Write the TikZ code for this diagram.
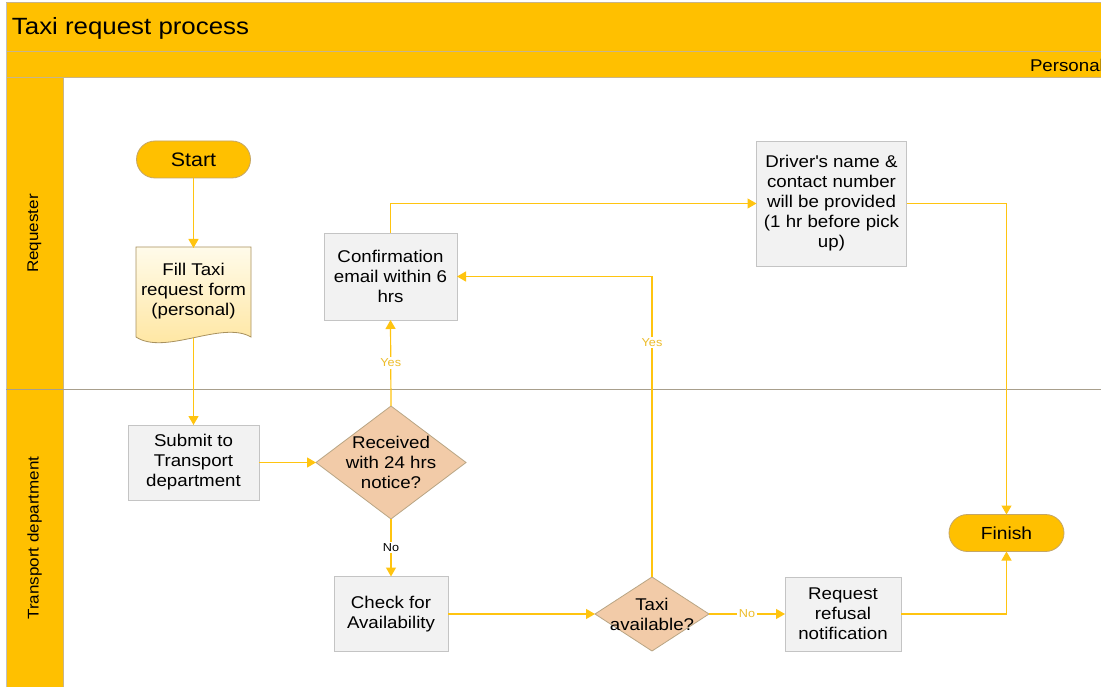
\documentclass[tikz,border=0pt]{standalone}
\usepackage{fontspec}
\setmainfont{Liberation Sans}[FakeStretch=1.1]
\usetikzlibrary{arrows.meta}
\definecolor{gold}{HTML}{FFC000}
\definecolor{lineclr}{HTML}{FFC410}
\definecolor{yesclr}{HTML}{EDBC2A}
\definecolor{frameclr}{HTML}{C8B48A}
\definecolor{frameg}{HTML}{C0C0C0}
\definecolor{sepclr}{HTML}{A89F8C}
\definecolor{procfill}{HTML}{F2F2F2}
\definecolor{procborder}{HTML}{C4C4C4}
\definecolor{decfill}{HTML}{F2CBA8}
\definecolor{decborder}{HTML}{B9A584}
\definecolor{termborder}{HTML}{C4A666}
\definecolor{docTop}{HTML}{FFFBEA}
\definecolor{docBot}{HTML}{FFE49A}
\definecolor{docborder}{HTML}{A8915E}
\pgfdeclarelayer{pool}
\pgfdeclarelayer{bg}
\pgfsetlayers{pool,bg,main}
\begin{document}
\begin{tikzpicture}[x=1pt,y=-1pt,
  every node/.style={inner sep=0pt, outer sep=0pt, text=black},
  base/.style={font=\fontsize{17}{20}\selectfont, align=center},
  proc/.style={base, rectangle, draw=procborder, fill=procfill, line width=0.8pt},
  term/.style={rectangle, rounded corners=18.5pt, draw=termborder, fill=gold, line width=0.8pt, minimum height=37pt},
  conn/.style={draw=lineclr, line width=1.2pt, -{Triangle[length=9pt,width=10pt]}},
  lbl/.style={fill=white, font=\fontsize{11.5}{13}\selectfont, inner sep=1.5pt},
  dec/.style={draw=decborder, fill=decfill, line width=0.8pt},
  lane/.style={rotate=90, font=\fontsize{15.5}{18}\selectfont},
]
\useasboundingbox (0,0) rectangle (1101,687);

\begin{pgfonlayer}{pool}
\fill[white] (0,0) rectangle (1101,687);
\fill[gold] (6,3) rectangle (1110,78);
\fill[gold] (6,78) rectangle (63,700);
\draw[frameclr, line width=1pt] (6,3) -- (1110,3);
\draw[frameclr, line width=1pt] (6,52) -- (1110,52);
\draw[frameclr, line width=1pt] (6,78) -- (1110,78);
\draw[frameg, line width=1pt] (6,3) -- (6,700);
\draw[frameclr, line width=1pt] (63,78) -- (63,700);
\draw[sepclr, line width=1pt] (6,389) -- (1110,389);
\end{pgfonlayer}

\node[anchor=west, font=\fontsize{23.5}{27}\selectfont] (title) at (12,28) {Taxi request process};
\node[anchor=west, font=\fontsize{17}{20}\selectfont] (persona) at (1030,65) {Personal};
\node[lane] (lane1) at (34.5,233.5) {Requester};
\node[lane] (lane2) at (34.5,538) {Transport department};

% nodes
\node[term, minimum width=114pt, font=\fontsize{19.5}{22}\selectfont] (start) at (193.5,159.5) {Start};
\node[base, minimum width=115pt, minimum height=86pt] (fill) at (193.5,291) {Fill Taxi\\request form\\(personal)};
\node[proc, minimum width=131pt, minimum height=75pt] (submit) at (193.5,462.5) {Submit to\\Transport\\department};
\node[proc, minimum width=133pt, minimum height=87pt] (conf) at (390.5,276.5) {Confirmation\\email within 6\\hrs};
\node[proc, minimum width=150pt, minimum height=125pt] (driver) at (831.5,203.5) {Driver\textquotesingle s name \&\\contact number\\will be provided\\(1 hr before pick\\up)};
\node[base, minimum width=150pt, minimum height=113pt] (recv) at (391,462.5) {Received\\with 24 hrs\\notice?};
\node[proc, minimum width=114pt, minimum height=75pt] (check) at (391,614) {Check for\\Availability};
\node[base, minimum width=114pt, minimum height=74pt] (taxi) at (652,614) {Taxi\\available?};
\node[proc, minimum width=116pt, minimum height=74pt] (req) at (843,614) {Request\\refusal\\notification};
\node[term, minimum width=115pt, font=\fontsize{17.5}{20}\selectfont] (finish) at (1006.5,533) {Finish};

\begin{pgfonlayer}{bg}
\draw[draw=docborder, line width=0.8pt, top color=docTop, bottom color=docBot]
  (136,247) -- (251,247) -- (251,337)
  .. controls (222,320) and (165,356) .. (136,337) -- cycle;
\draw[dec] (recv.north) -- (recv.east) -- (recv.south) -- (recv.west) -- cycle;
\draw[dec] (taxi.north) -- (taxi.east) -- (taxi.south) -- (taxi.west) -- cycle;
\end{pgfonlayer}

% connectors
\draw[conn] (start.south) -- (fill.north);
\draw[conn] ([yshift=-4pt]fill.south) -- (submit.north);
\draw[conn] (submit.east) -- (recv.west);
\draw[conn] (recv.north) -- node[lbl, text=yesclr]{Yes} (conf.south);
\draw[conn] (recv.south) -- node[lbl]{No} (check.north);
\draw[conn] (check.east) -- (taxi.west);
\draw[conn] (taxi.north) |- node[lbl, pos=0.39, text=yesclr]{Yes} (conf.east);
\draw[conn] (taxi.east) -- node[lbl, text=yesclr]{No} (req.west);
\draw[conn] (conf.north) |- (driver.west);
\draw[conn] (driver.east) -| (finish.north);
\draw[conn] (req.east) -| (finish.south);
\end{tikzpicture}
\end{document}
